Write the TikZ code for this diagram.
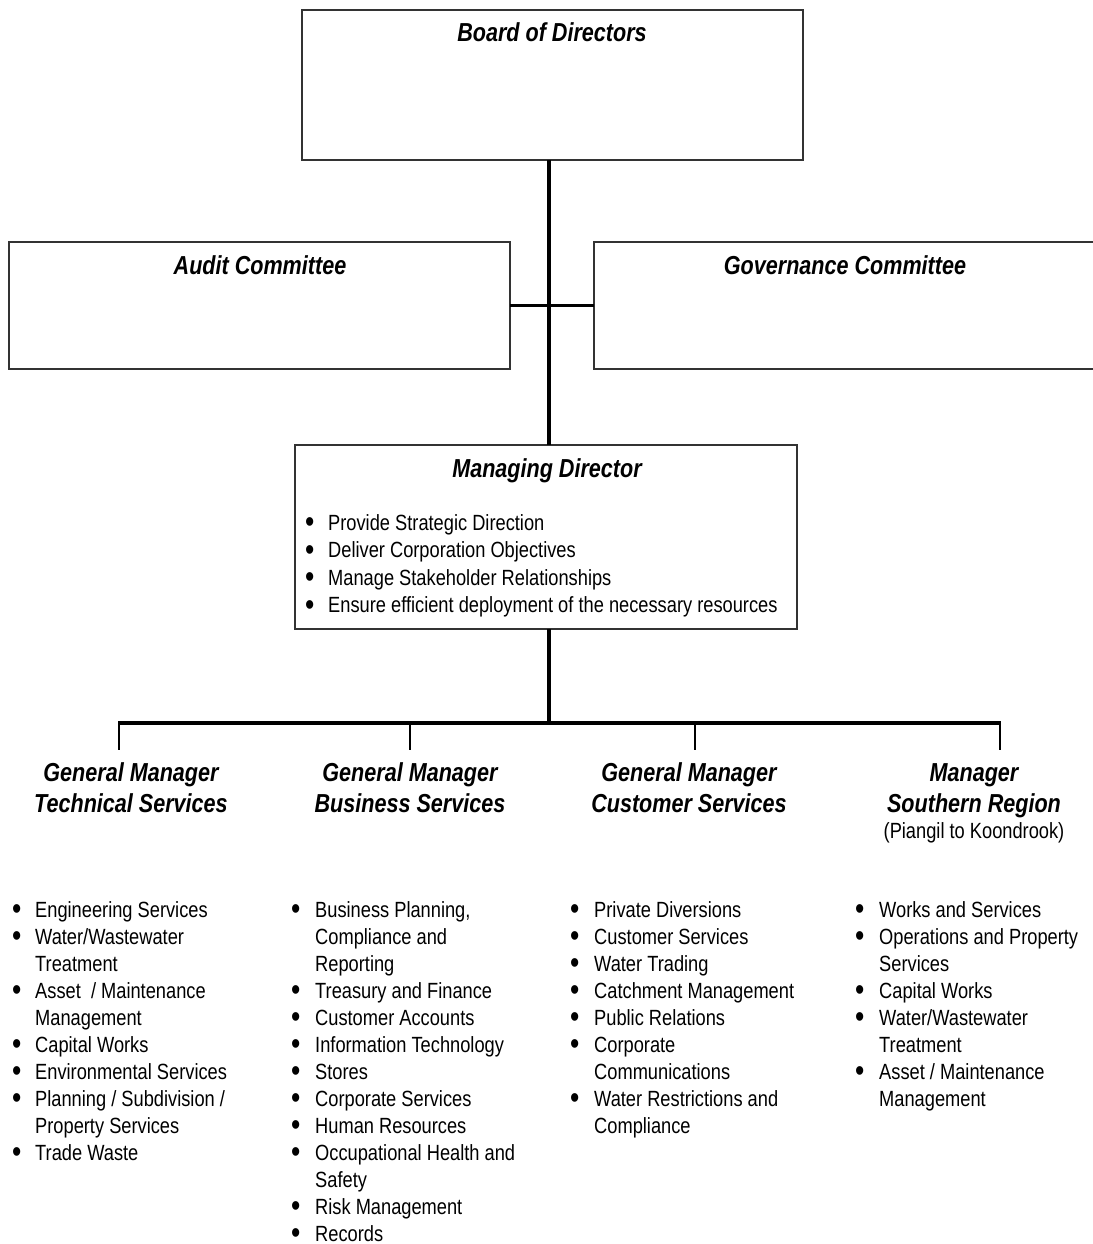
\documentclass[tikz,border=0pt]{standalone}
\usepackage{fontspec}
\setmainfont{Liberation Sans}[FakeStretch=0.83]
\newcommand{\bu}{\raisebox{-2.6pt}{\scalebox{1.45}{\textbullet}}}
\begin{document}
\begin{tikzpicture}[x=1pt,y=-1pt,
 box/.style={draw=black!80, line width=1.1pt, rectangle, inner sep=0pt, outer sep=0pt, fill=white},
 ttl/.style={inner sep=0pt, anchor=base, font=\fontsize{26}{31}\selectfont\bfseries\itshape},
 lst/.style={inner sep=0pt, anchor=base west, font=\fontsize{22}{27}\selectfont},
 conn/.style={line width=3.2pt, black},
 drop/.style={line width=2.2pt, black}]
\useasboundingbox[fill=white] (0,0) rectangle (1092,1244);

% boxes
\node[box, minimum width=501pt, minimum height=150pt] (board) at (552.5,85) {};
\node[ttl] (boardT) at (552,42) {Board of Directors};
\node[box, minimum width=501pt, minimum height=127pt] (audit) at (259.5,305.5) {};
\node[ttl] (auditT) at (260,274) {Audit Committee};
\node[box, minimum width=506pt, minimum height=127pt] (gov) at (847,305.5) {};
\node[ttl] (govT) at (845,274) {Governance Committee};
\node[box, minimum width=502pt, minimum height=184pt] (md) at (546,537) {};
\node[ttl] (mdT) at (547,477) {Managing Director};
\node[lst] (mdL) at (305,530) {\fontsize{22}{27.6}\selectfont\begin{tabular}[t]{@{}p{23pt}@{}l@{}}
\bu & Provide Strategic Direction\\
\bu & Deliver Corporation Objectives\\
\bu & Manage Stakeholder Relationships\\
\bu & Ensure efficient deployment of the necessary resources
\end{tabular}};

% connectors
\coordinate (sp) at (549,0);
\draw[conn] (board.south -| sp) -- (md.north -| sp);
\draw[conn] (audit.east) -- (gov.west);
\coordinate (hub) at (549,723);
\coordinate (j1) at (119,723);
\coordinate (j2) at (410,723);
\coordinate (j3) at (695,723);
\coordinate (j4) at (1000,723);
\draw[conn] (md.south -| sp) -- (hub);
\draw[conn] ([xshift=-1pt]j1) -- ([xshift=1pt]j4);

% managers
\node[ttl] (gm1) at (131,781) {\begin{tabular}[t]{@{}c@{}}General Manager\\Technical Services\end{tabular}};
\node[ttl] (gm2) at (410,781) {\begin{tabular}[t]{@{}c@{}}General Manager\\Business Services\end{tabular}};
\node[ttl] (gm3) at (689,781) {\begin{tabular}[t]{@{}c@{}}General Manager\\Customer Services\end{tabular}};
\node[ttl] (gm4) at (974,781) {\begin{tabular}[t]{@{}c@{}}Manager\\Southern Region\\[-5pt]{\mdseries\upshape\fontsize{22}{27}\selectfont (Piangil to Koondrook)}\end{tabular}};

\draw[drop, shorten >=9pt] (j1) -- (j1 |- gm1.north);
\draw[drop, shorten >=9pt] (j2) -- (j2 |- gm2.north);
\draw[drop, shorten >=9pt] (j3) -- (j3 |- gm3.north);
\draw[drop, shorten >=9pt] (j4) -- (j4 |- gm4.north);

% lists
\node[lst] (l1) at (12,917) {\begin{tabular}[t]{@{}p{23pt}@{}l@{}}
\bu & Engineering Services\\
\bu & Water/Wastewater\\
 & Treatment\\
\bu & Asset\ \ / Maintenance\\
 & Management\\
\bu & Capital Works\\
\bu & Environmental Services\\
\bu & Planning / Subdivision /\\
 & Property Services\\
\bu & Trade Waste
\end{tabular}};
\node[lst] (l2) at (291,917) {\begin{tabular}[t]{@{}p{24pt}@{}l@{}}
\bu & Business Planning,\\
 & Compliance and\\
 & Reporting\\
\bu & Treasury and Finance\\
\bu & Customer Accounts\\
\bu & Information Technology\\
\bu & Stores\\
\bu & Corporate Services\\
\bu & Human Resources\\
\bu & Occupational Health and\\
 & Safety\\
\bu & Risk Management\\
\bu & Records
\end{tabular}};
\node[lst] (l3) at (570,917) {\begin{tabular}[t]{@{}p{24pt}@{}l@{}}
\bu & Private Diversions\\
\bu & Customer Services\\
\bu & Water Trading\\
\bu & Catchment Management\\
\bu & Public Relations\\
\bu & Corporate\\
 & Communications\\
\bu & Water Restrictions and\\
 & Compliance
\end{tabular}};
\node[lst] (l4) at (855,917) {\begin{tabular}[t]{@{}p{24pt}@{}l@{}}
\bu & Works and Services\\
\bu & Operations and Property\\
 & Services\\
\bu & Capital Works\\
\bu & Water/Wastewater\\
 & Treatment\\
\bu & Asset / Maintenance\\
 & Management
\end{tabular}};
\end{tikzpicture}
\end{document}
